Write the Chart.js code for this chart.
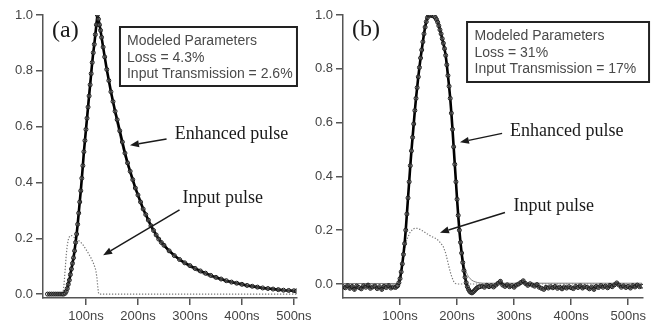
<!DOCTYPE html>
<html>
<head>
<meta charset="utf-8">
<script src="https://cdn.jsdelivr.net/npm/chart.js@4.4.1/dist/chart.umd.min.js"></script>
<style>
  html, body { margin: 0; padding: 0; background: #fff; }
  #wrap { position: relative; width: 665px; height: 328px; overflow: hidden; }
  canvas { position: absolute; top: 0; }
  #ca { left: 0; }
  #cb { left: 300px; }
</style>
</head>
<body>
<div id="wrap">
  <canvas id="ca" width="320" height="328"></canvas>
  <canvas id="cb" width="365" height="328"></canvas>
</div>
<script>
// ---------- shared axis ticks ----------
const xTicks = [100, 200, 300, 400, 500];
const yTicks = [0, 0.2, 0.4, 0.6, 0.8, 1.0];
const xUnit = 'ns';

// ---------- panel (a) ----------
const aTime = [26,30,34,38,42,46,50,54,57,60,62,64,66,68,70,72,74,76,78,80,82,84,86,88,90,92,94,96,98,100,102,104,106,108,110,112,114,116,118,120,122,124,126,128,130,133,136,140,144,148,152,156,160,165,170,175,180,185,190,195,200,205,210,215,220,225,230,235,240,245,250,260,270,280,290,300,310,320,330,340,350,360,370,380,390,400,410,420,430,440,450,460,470,480,490,500,505];
const aEnhanced = [0,0,0,0,0,0,0,0,0,0.003,0.01,0.02,0.035,0.05,0.07,0.09,0.11,0.13,0.155,0.185,0.215,0.25,0.29,0.33,0.37,0.415,0.46,0.51,0.55,0.59,0.63,0.67,0.71,0.75,0.79,0.83,0.865,0.895,0.93,0.965,1.0,0.985,0.965,0.945,0.92,0.885,0.85,0.805,0.765,0.725,0.69,0.655,0.625,0.585,0.545,0.505,0.47,0.44,0.41,0.38,0.355,0.33,0.305,0.285,0.265,0.245,0.228,0.212,0.197,0.185,0.175,0.155,0.138,0.124,0.112,0.102,0.092,0.083,0.075,0.067,0.06,0.054,0.048,0.043,0.039,0.035,0.031,0.028,0.025,0.022,0.02,0.018,0.016,0.014,0.013,0.012,0.011];
const aFitTime = [26,58,62,70,80,90,100,110,118,122,126,135,150,165,180,200,225,250,275,300,330,360,400,450,505];
const aFit = [0,0,0.01,0.07,0.185,0.37,0.6,0.8,0.93,1.0,0.96,0.86,0.7,0.565,0.46,0.35,0.24,0.172,0.128,0.096,0.068,0.05,0.031,0.017,0.009];
const aInputTime = [26,54,56,58,60,62,64,66,68,70,72,76,80,85,90,95,100,105,110,114,117,119,121,122,123,124,125,505];
const aInput = [0,0,0.005,0.04,0.09,0.14,0.175,0.195,0.205,0.21,0.21,0.205,0.2,0.193,0.186,0.175,0.16,0.145,0.128,0.112,0.097,0.085,0.06,0.04,0.02,0.005,0,0];

// ---------- panel (b) ----------
const bTime = [0,4,8,12,16,20,24,28,32,36,40,44,48,52,56,60,64,68,72,76,80,84,88,92,95,
  96,98,100,102,104,106,108,110,112,114,116,118,120,122,124,126,128,130,132,134,136,138,140,142,144,146,148,150,152,154,156,158,160,162,164,166,168,170,172,174,176,178,180,182,184,186,188,190,192,194,196,198,200,202,204,206,208,210,212,214,216,218,220,222,224,226,228,230,232,234,236,238,240,
  244,248,252,256,260,264,268,272,276,280,284,288,292,296,300,304,308,312,316,320,324,328,332,336,340,344,348,352,356,360,364,368,372,376,380,384,388,392,396,400,404,408,412,416,420,424,428,432,436,440,444,448,452,456,460,464,468,472,476,480,484,488,492,496,500,504,508,512,516,520,524];
const bEnhanced = [-0.01,-0.014,-0.006,-0.016,-0.009,-0.02,-0.008,-0.013,-0.018,-0.007,-0.012,-0.004,-0.016,-0.011,-0.008,-0.017,-0.01,-0.02,-0.009,-0.013,-0.006,-0.015,-0.011,-0.013,-0.008,
  -0.005,0.005,0.02,0.045,0.075,0.11,0.15,0.2,0.26,0.32,0.38,0.44,0.495,0.545,0.595,0.645,0.69,0.73,0.77,0.805,0.84,0.87,0.9,0.93,0.955,0.975,0.99,1.0,1.002,0.998,1.0,0.997,0.995,0.99,0.983,0.973,0.96,0.945,0.93,0.912,0.895,0.875,0.85,0.815,0.775,0.735,0.69,0.635,0.575,0.51,0.445,0.38,0.315,0.255,0.2,0.155,0.115,0.08,0.05,0.025,0.005,-0.01,-0.02,-0.027,-0.031,-0.033,-0.03,-0.026,-0.021,-0.017,-0.013,-0.011,-0.01,
  -0.008,-0.012,-0.005,-0.01,-0.006,-0.011,-0.004,0.003,0.01,-0.004,-0.009,-0.003,-0.01,-0.006,-0.012,-0.004,0.0,0.006,0.012,0.002,-0.005,0.001,-0.004,-0.008,-0.002,-0.012,-0.016,-0.02,-0.012,-0.015,-0.01,-0.014,-0.009,-0.016,-0.012,-0.018,-0.011,-0.015,-0.01,-0.014,-0.017,-0.009,-0.013,-0.007,-0.015,-0.01,-0.012,-0.018,-0.011,-0.02,-0.009,-0.013,-0.006,-0.012,-0.008,-0.014,-0.005,-0.01,-0.003,0.004,-0.004,-0.012,-0.007,-0.013,-0.009,-0.015,-0.006,-0.011,-0.004,-0.01,-0.008];
const bFitTime = [0,96,100,104,108,112,116,120,124,128,132,136,140,144,148,152,156,160,164,168,172,176,180,184,188,192,196,200,204,208,212,216,220,226,232,240,250,524];
const bFit = [0.002,0.002,0.02,0.075,0.15,0.26,0.38,0.495,0.595,0.69,0.77,0.84,0.9,0.955,0.99,1.0,1.0,0.995,0.983,0.96,0.93,0.895,0.85,0.775,0.69,0.575,0.445,0.315,0.2,0.125,0.075,0.045,0.028,0.014,0.008,0.004,0.003,0.003];
const bInputTime = [0,98,100,102,104,106,109,112,117,122,126,130,135,140,145,150,155,160,164,168,172,176,180,184,188,191,194,197,200,524];
const bInput = [0,0,0.01,0.04,0.08,0.11,0.14,0.165,0.19,0.203,0.208,0.207,0.203,0.197,0.19,0.183,0.177,0.172,0.168,0.16,0.15,0.138,0.115,0.08,0.045,0.025,0.01,0.002,0,0];

// ---------- annotation texts ----------
const aBoxLines = ['Modeled Parameters', 'Loss = 4.3%', 'Input Transmission = 2.6%'];
const bBoxLines = ['Modeled Parameters', 'Loss = 31%', 'Input Transmission = 17%'];

const pts = (t, v) => t.map((x, i) => ({ x, y: v[i] }));

const SERIF = '"Liberation Serif", "Times New Roman", serif';
const SANS = '"Liberation Sans", Arial, sans-serif';

const annotPlugin = {
  id: 'annot',
  afterDatasetsDraw(chart, args, o) {
    const { ctx } = chart;
    const xs = chart.scales.x, ys = chart.scales.y;
    const px = v => xs.getPixelForValue(v), py = v => ys.getPixelForValue(v);
    ctx.save();
    if (o.box) {
      const b = o.box;
      const bx = px(b.x), by = py(b.y);
      ctx.lineWidth = 2;
      ctx.strokeStyle = '#222';
      ctx.strokeRect(bx, by, b.w, b.h);
      ctx.font = '14px ' + SANS;
      ctx.fillStyle = '#4a4a4a';
      ctx.textAlign = 'left';
      ctx.textBaseline = 'middle';
      b.lines.forEach((l, i) => ctx.fillText(l, bx + b.pad, by + 14 + i * 16.7));
    }
    for (const t of o.texts) {
      ctx.font = t.font;
      ctx.fillStyle = '#1a1a1a';
      ctx.textAlign = 'left';
      ctx.textBaseline = 'middle';
      ctx.fillText(t.text, px(t.x), py(t.y));
    }
    for (const a of o.arrows) {
      const x1 = px(a.x1), y1 = py(a.y1), x2 = px(a.x2), y2 = py(a.y2);
      const ang = Math.atan2(y2 - y1, x2 - x1);
      const hl = 9, hw = 3.5;
      const bxp = x2 - hl * Math.cos(ang), byp = y2 - hl * Math.sin(ang);
      ctx.strokeStyle = '#1a1a1a';
      ctx.fillStyle = '#1a1a1a';
      ctx.lineWidth = 1.5;
      ctx.beginPath();
      ctx.moveTo(x1, y1);
      ctx.lineTo(bxp, byp);
      ctx.stroke();
      ctx.beginPath();
      ctx.moveTo(x2, y2);
      ctx.lineTo(bxp + hw * Math.sin(ang), byp - hw * Math.cos(ang));
      ctx.lineTo(bxp - hw * Math.sin(ang), byp + hw * Math.cos(ang));
      ctx.closePath();
      ctx.fill();
    }
    ctx.restore();
  }
};

function makeChart(id, d, xr, yr, padRight, annot) {
  return new Chart(document.getElementById(id), {
    type: 'line',
    data: {
      datasets: [
        { label: 'Enhanced pulse', data: d.enh, borderColor: '#000', borderWidth: 2.6,
          pointRadius: 2, pointBorderWidth: 1, pointBorderColor: '#1a1a1a',
          pointBackgroundColor: 'rgba(255,255,255,0.25)', tension: 0, order: 1 },
        { label: 'Model', data: d.fit, borderColor: '#808080', borderWidth: 1, pointRadius: 0,
          cubicInterpolationMode: 'monotone', order: 2 },
        { label: 'Input pulse', data: d.inp, borderColor: '#777', borderWidth: 1.2,
          borderDash: [1.3, 1.7], pointRadius: 0, tension: 0, order: 3 }
      ]
    },
    options: {
      responsive: false,
      animation: false,
      devicePixelRatio: 1,
      layout: { padding: { left: 0, top: 15, right: padRight, bottom: 0 } },
      plugins: { legend: { display: false }, tooltip: { enabled: false }, annot },
      scales: {
        x: {
          type: 'linear', min: xr[0], max: xr[1],
          afterBuildTicks: s => { s.ticks = xTicks.map(v => ({ value: v })); },
          afterFit: s => { s.height = 30; },
          ticks: { callback: v => v + xUnit, color: '#444', font: { family: SANS, size: 13 },
                   padding: 4, maxRotation: 0, autoSkip: false },
          grid: { drawOnChartArea: false, drawTicks: true, tickLength: 7, color: '#555', lineWidth: 1.5 },
          border: { display: true, color: '#555', width: 1.5 }
        },
        y: {
          min: yr[0], max: yr[1],
          afterBuildTicks: s => { s.ticks = yTicks.map(v => ({ value: v })); },
          afterFit: s => { s.width = 43; },
          ticks: { callback: v => Number(v).toFixed(1), color: '#444', font: { family: SANS, size: 13 },
                   padding: 3, autoSkip: false },
          grid: { drawOnChartArea: false, drawTicks: true, tickLength: 7, color: '#555', lineWidth: 1.5 },
          border: { display: true, color: '#555', width: 1.5 }
        }
      }
    },
    plugins: [annotPlugin]
  });
}

makeChart('ca',
  { enh: pts(aTime, aEnhanced), fit: pts(aFitTime, aFit), inp: pts(aInputTime, aInput) },
  [17.3, 506], [-0.014, 1.0], 23,
  {
    box: { x: 165.4, y: 0.957, w: 177, h: 59, pad: 7, lines: aBoxLines },
    texts: [
      { text: '(a)', x: 34.6, y: 0.943, font: '24px ' + SERIF },
      { text: 'Enhanced pulse', x: 271, y: 0.571, font: '18px ' + SERIF },
      { text: 'Input pulse', x: 285.6, y: 0.342, font: '18px ' + SERIF }
    ],
    arrows: [
      { x1: 255, y1: 0.556, x2: 184.6, y2: 0.533 },
      { x1: 280, y1: 0.302, x2: 133, y2: 0.139 }
    ]
  });

makeChart('cb',
  { enh: pts(bTime, bEnhanced), fit: pts(bFitTime, bFit), inp: pts(bInputTime, bInput) },
  [0, 526], [-0.052, 1.0], 22,
  {
    box: { x: 217.5, y: 0.974, w: 182, h: 60, pad: 7.5, lines: bBoxLines },
    texts: [
      { text: '(b)', x: 15.8, y: 0.944, font: '24px ' + SERIF },
      { text: 'Enhanced pulse', x: 293, y: 0.568, font: '18px ' + SERIF },
      { text: 'Input pulse', x: 298.8, y: 0.288, font: '18px ' + SERIF }
    ],
    arrows: [
      { x1: 279, y1: 0.56, x2: 205, y2: 0.527 },
      { x1: 284, y1: 0.266, x2: 170, y2: 0.191 }
    ]
  });
</script>
</body>
</html>
